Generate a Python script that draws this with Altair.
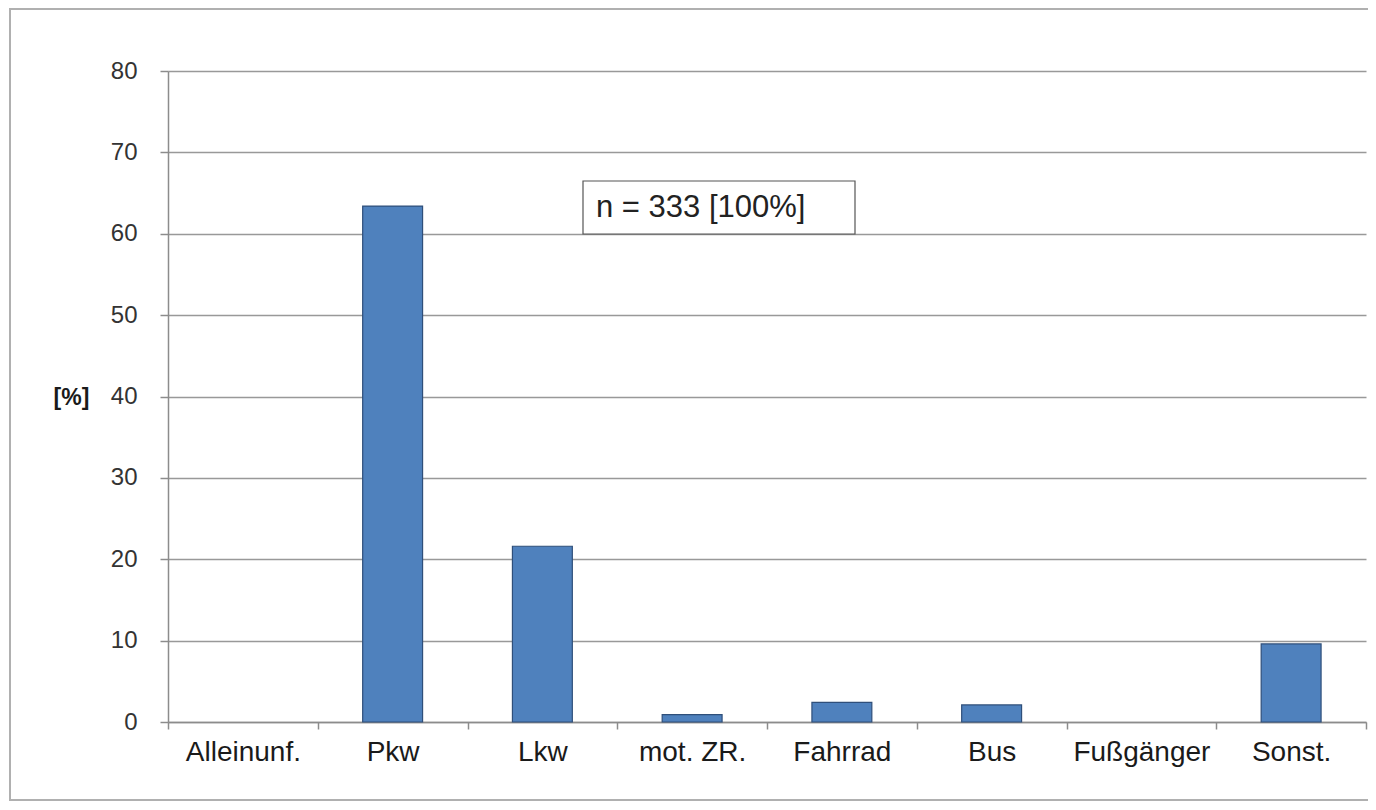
import altair as alt
import pandas as pd

categories = ["Alleinunf.", "Pkw", "Lkw", "mot. ZR.", "Fahrrad", "Bus", "Fußgänger", "Sonst."]
values = [0, 63.4, 21.6, 0.9, 2.4, 2.1, 0, 9.6]
y_ticks = [0, 10, 20, 30, 40, 50, 60, 70, 80]
note = "n = 333 [100%]"

df = pd.DataFrame({"cat": categories, "val": values})

W, H = 1198, 651
FONT = "Liberation Sans"

x_enc = alt.X("cat:N", sort=categories,
              scale=alt.Scale(domain=categories, paddingInner=0, paddingOuter=0),
              axis=alt.Axis(title=None, labelAngle=0, labelFont=FONT, labelFontSize=28,
                            labelColor="#1a1a1a", labelPadding=9, tickBand="extent",
                            tickSize=7, tickColor="#8c8c8c", domainColor="#8c8c8c",
                            domainWidth=1.5, tickWidth=1.5, grid=False))
y_enc = alt.Y("val:Q", scale=alt.Scale(domain=[0, 80], nice=False),
              axis=alt.Axis(title="[%]", titleAngle=0, titleFont=FONT, titleFontSize=23,
                            titleFontWeight="bold", titleColor="#1a1a1a",
                            titleX=-97, titleY=326, titleAlign="center", titleBaseline="middle",
                            values=y_ticks, labelFont=FONT, labelFontSize=24,
                            labelColor="#333333", labelPadding=23, tickSize=8,
                            tickColor="#8c8c8c", domainColor="#8c8c8c", domainWidth=1.5,
                            tickWidth=1.5, gridColor="#999999", gridWidth=1.3))

border = alt.Chart(pd.DataFrame({"a": [0]})).mark_rect(
    fill="transparent", stroke="#b0b0b0", strokeWidth=2
).encode(x=alt.value(-158), x2=alt.value(1220), y=alt.value(-62), y2=alt.value(729))

bars = alt.Chart(df).transform_filter("datum.val > 0").mark_bar(
    color="#4F81BD", stroke="#2f4f7a", strokeWidth=1.2, width=alt.RelativeBandSize(0.4)
).encode(x=x_enc, y=y_enc)

box = alt.Chart(pd.DataFrame({"a": [0]})).mark_rect(
    fill="white", stroke="#555555", strokeWidth=1.2
).encode(x=alt.value(415), x2=alt.value(687), y=alt.value(110), y2=alt.value(163))

label = alt.Chart(pd.DataFrame({"t": [note]})).mark_text(
    align="left", baseline="middle", font=FONT, fontSize=31, color="#222222"
).encode(x=alt.value(428), y=alt.value(137), text="t:N")

chart = alt.layer(border, bars, box, label).properties(
    width=W, height=H,
    autosize=alt.AutoSizeParams(type="none"),
    padding={"left": 160, "top": 63, "right": 2, "bottom": 80},
).configure_view(stroke=None)

chart.save("out.html", embed_options={"renderer": "svg", "actions": False})
